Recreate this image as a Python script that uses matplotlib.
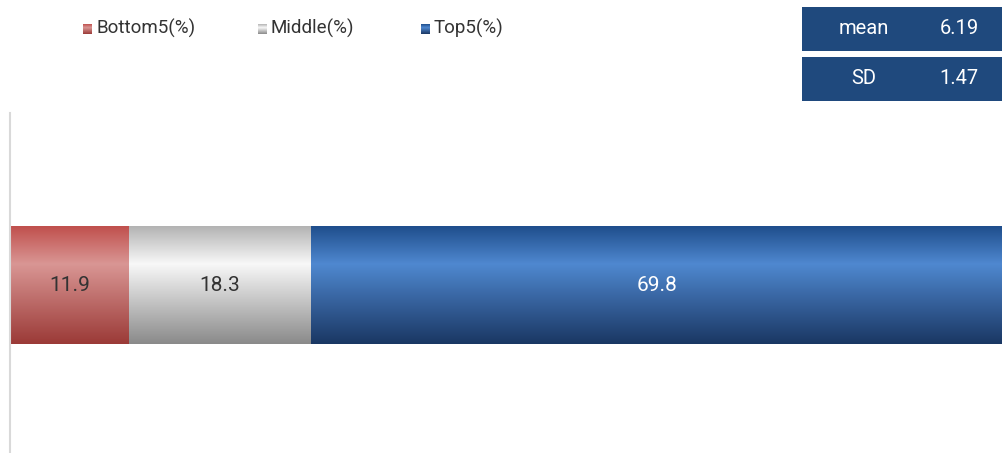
import numpy as np
import matplotlib.pyplot as plt
from matplotlib.colors import LinearSegmentedColormap
from matplotlib.patches import Rectangle

plt.rcParams['font.family'] = ['Roboto', 'DejaVu Sans']

# share of respondents in each group
groups = ['Bottom5(%)', 'Middle(%)', 'Top5(%)']
shares = [11.9, 18.3, 69.8]
stat_names = ['mean', 'SD']
stat_values = ['6.19', '1.47']

# top -> light band -> bottom for each segment
gradients = [
    ['#c0504d', '#d99694', '#9b3a37'],
    ['#b3b3b3', '#f8f8f8', '#8a8a8a'],
    ['#1f4e8c', '#4f88d0', '#1a3763'],
]
label_colors = ['#333333', '#333333', 'white']

fig = plt.figure(figsize=(10.03, 4.53), dpi=100)
ax = fig.add_axes([11 / 1003, 0, 992 / 1003, 340 / 453])
ax.axis('off')

bar_h = 0.345
y0, y1 = -bar_h / 2 - 0.007, bar_h / 2 - 0.007
ramp = np.linspace(0, 1, 256).reshape(-1, 1)

left = 0
for name, val, cols, tc in zip(groups, shares, gradients, label_colors):
    cmap = LinearSegmentedColormap.from_list(name, [(0, cols[0]), (0.32, cols[1]), (1, cols[2])])
    # row 0 of the ramp sits at the top of the segment
    ax.imshow(ramp, cmap=cmap, extent=[left, left + val, y0, y1], aspect='auto',
              interpolation='bilinear', zorder=2)
    ax.text(left + val / 2, (y0 + y1) / 2, f'{val:.1f}', ha='center', va='center',
            fontsize=15, color=tc, zorder=3)
    left += val
ax.set_xlim(0, 100)
ax.set_ylim(-0.5, 0.5)

# thin axis line on the left
fig.add_artist(plt.Line2D([10 / 1003, 10 / 1003], [0, 340 / 453], color='#d9d9d9', lw=1.5))

# legend
leg_x = [83, 258, 421]
for name, cols, x in zip(groups, gradients, leg_x):
    cmap = LinearSegmentedColormap.from_list(name + 'l', [(0, cols[0]), (0.35, cols[1]), (1, cols[2])])
    lax = fig.add_axes([x / 1003, (453 - 34) / 453, 9 / 1003, 10 / 453])
    lax.imshow(ramp, cmap=cmap, aspect='auto')
    lax.axis('off')
    fig.text((x + 13) / 1003, (453 - 28) / 453, name, ha='left', va='center',
             fontsize=13.5, color='#333333')

# summary boxes
for i, (s, v) in enumerate(zip(stat_names, stat_values)):
    top = 7 + i * 50
    fig.add_artist(Rectangle((802 / 1003, (453 - top - 44) / 453), 201 / 1003, 44 / 453,
                             transform=fig.transFigure, facecolor='#1f497d', edgecolor='none'))
    yc = (453 - top - 22) / 453
    fig.text(864 / 1003, yc, s, ha='center', va='center', fontsize=14.5, color='white')
    fig.text(959 / 1003, yc, v, ha='center', va='center', fontsize=14.5, color='white')

fig.savefig('out.png', dpi=100)
